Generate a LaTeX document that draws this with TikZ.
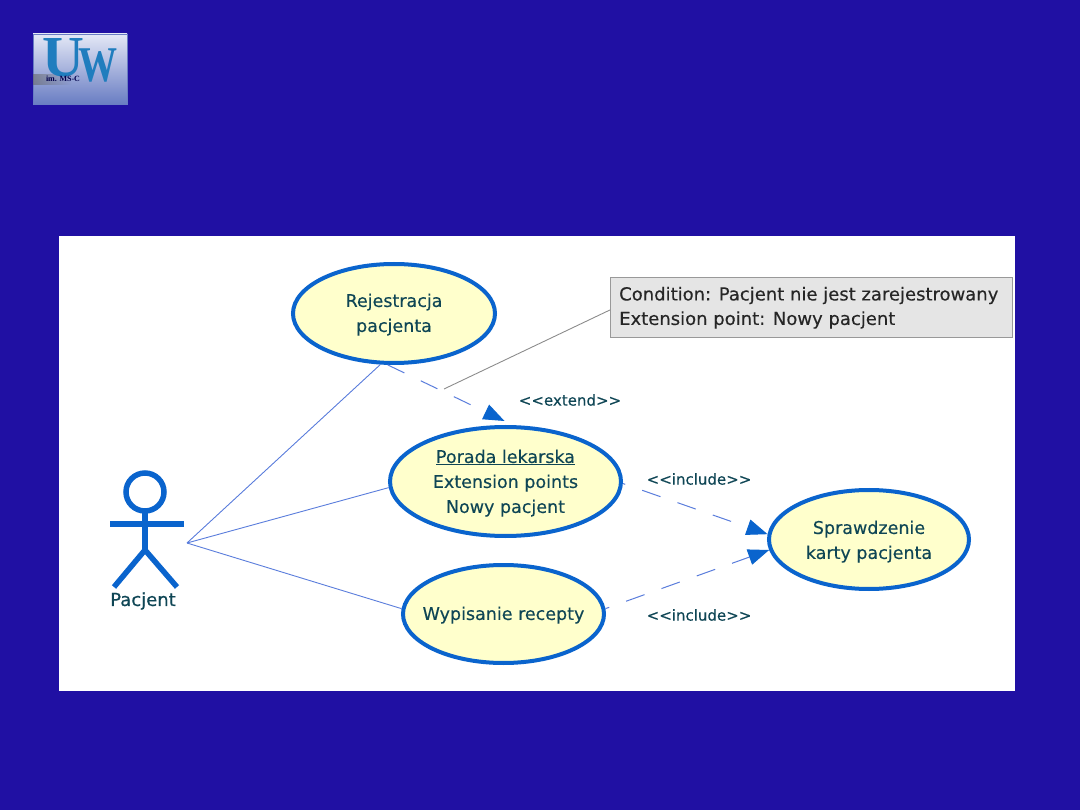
\documentclass[tikz,border=0pt]{standalone}
\usepackage{fontspec}
\setmainfont{DejaVu Sans}
\newfontfamily\heavy[FakeBold=0.25]{DejaVu Sans}
\newfontfamily\heavier[FakeBold=0.6]{DejaVu Sans}
\newfontfamily\logofont{Liberation Serif}
\usetikzlibrary{shapes.geometric,arrows.meta,fadings}
\definecolor{slidebg}{RGB}{32,16,163}
\definecolor{ucfill}{RGB}{255,255,204}
\definecolor{ucline}{RGB}{10,100,205}
\definecolor{linkblue}{RGB}{90,125,220}
\definecolor{txt}{RGB}{15,70,85}
\definecolor{logoblue}{RGB}{32,125,190}
\definecolor{logotop}{RGB}{228,232,246}
\definecolor{logomid}{RGB}{190,205,235}
\definecolor{logobot}{RGB}{105,125,195}
\newcommand{\lowered}[1]{\rule{0pt}{#1pt}}
\tikzset{
  usecase/.style={ellipse,draw=ucline,fill=ucfill,line width=4pt,inner sep=-30pt,outer sep=2pt,
    align=center,text=txt,font=\heavy\fontsize{17.5}{25}\selectfont},
  assoc/.style={draw=linkblue,line width=0.9pt},
  deplink/.style={draw=linkblue,line width=1pt,-{Triangle[length=21pt,width=16pt,fill=ucline,color=ucline]}},
  deplabel/.style={text=txt,font=\heavy\fontsize{15}{18}\selectfont,inner sep=0pt},
  figure/.style={draw=ucline,line cap=butt},
  notebox/.style={draw=black!40,fill=black!10,line width=0.9pt,anchor=north west,inner sep=0pt,
    minimum width=402pt,minimum height=60pt},
  notetext/.style={anchor=west,inner sep=0pt,text=black!85,font=\heavy\fontsize{18}{18}\selectfont}
}
\begin{document}
\begin{tikzpicture}[x=1pt,y=-1pt]
\fill[slidebg] (0,0) rectangle (1080,810);
\useasboundingbox (0,0) rectangle (1080,810);
% logo
\shade[top color=logotop,middle color=logomid,bottom color=logobot] (33,34) rectangle (127,104);
\draw[logobot,line width=0.7pt] (33,34) rectangle (127,104);
\fill[black!60,opacity=.6,path fading=east] (33,74) rectangle (72,85);
\node[text=logoblue,font=\logofont\bfseries\fontsize{58}{58}\selectfont,inner sep=0pt] (logou) at (63,57.5) {U};
\node[text=logoblue,font=\logofont\bfseries\fontsize{50}{50}\selectfont,inner sep=0pt,xscale=.78] (logow) at (98,66) {W};
\node[text=black!70!blue,font=\logofont\bfseries\fontsize{8}{9}\selectfont,inner sep=0pt] (logot) at (63,78.5) {im. MS-C};
% panel
\fill[white] (59,236) rectangle (1015,691);
% use cases
\node[usecase,minimum width=202pt,minimum height=99pt] (rej) at (394,313.5) {\lowered{15.5}Rejestracja\\pacjenta};
\node[usecase,minimum width=231pt,minimum height=109pt] (por) at (505.5,481.5) {\lowered{16.5}\underline{Porada lekarska}\\Extension points\\Nowy pacjent};
\node[usecase,minimum width=201pt,minimum height=98pt] (wyp) at (503.5,614) {\lowered{15.5}Wypisanie recepty};
\node[usecase,minimum width=200pt,minimum height=99pt] (spr) at (869,539.5) {\lowered{17.5}Sprawdzenie\\karty pacjenta};
% note
\node[notebox] (note) at (610,277) {};
\node[notetext] (notea) at (619,295.5) {Condition: Pacjent nie jest zarejestrowany};
\node[notetext] (noteb) at (619,320) {Extension point: Nowy pacjent};
\coordinate (notefoot) at (444,389);
\draw[black!45,line width=0.9pt] (notefoot) -- ([yshift=-2.5pt]note.west);
% actor
\draw[figure,line width=5.5pt] (145,492) circle (19);
\draw[figure,line width=6pt] (110,524) -- (184,524);
\draw[figure,line width=5.5pt] (145,512) -- (145,550);
\draw[figure,line width=5.5pt] (114,587) -- (145,550) -- (177,587);
\node[text=txt,font=\heavier\fontsize{18}{18}\selectfont,inner sep=0pt] (actor) at (143,601) {Pacjent};
\coordinate (hub) at (187,543);
% associations
\draw[assoc] (hub) -- (rej.-105.6);
\draw[assoc] (hub) -- (por.183.9);
\draw[assoc] (hub) -- (wyp.177.8);
% dependencies
\draw[deplink,dash pattern=on 18.5pt off 18.2pt] (rej.-97) -- ([yshift=4pt]por.91);
\draw[deplink,dash pattern=on 19.4pt off 18pt,dash phase=17pt] (por.-1) -- (spr.177.7);
\draw[deplink,dash pattern=on 19.5pt off 18pt,dash phase=15.5pt] (wyp.3.4) -- (spr.186);
\node[deplabel] (lext) at (570,400) {<{}<extend>{}>};
\node[deplabel] (linc) at (699,479) {<{}<include>{}>};
\node[deplabel] (linc2) at (699,615) {<{}<include>{}>};
\end{tikzpicture}
\end{document}
